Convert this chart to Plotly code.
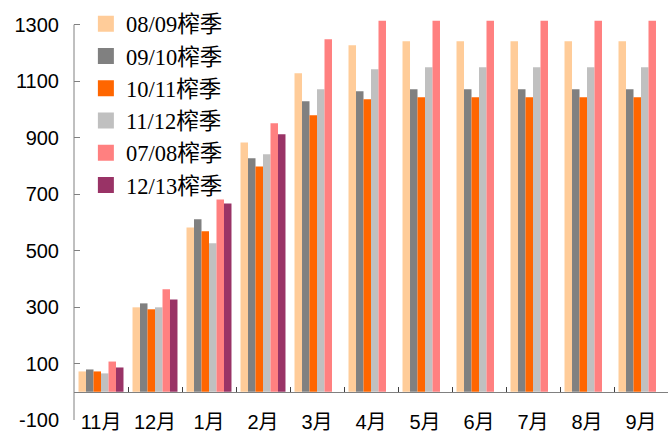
import plotly.graph_objects as go

months = ["11月", "12月", "1月", "2月", "3月", "4月", "5月", "6月", "7月", "8月", "9月"]

s_0809 = [72, 299, 582, 883, 1128, 1227, 1241, 1241, 1241, 1241, 1241]
s_0910 = [79, 313, 611, 827, 1029, 1064, 1071, 1071, 1071, 1071, 1071]
s_1011 = [72, 292, 568, 798, 979, 1036, 1043, 1043, 1043, 1043, 1043]
s_1112 = [65, 299, 526, 841, 1071, 1142, 1149, 1149, 1149, 1149, 1149]
s_0708 = [107, 363, 681, 951, 1248, 1314, 1314, 1314, 1314, 1314, 1314]
s_1213 = [86, 327, 667, 912, None, None, None, None, None, None, None]

series = [
    ("08/09榨季", s_0809, "#FFCC99"),
    ("09/10榨季", s_0910, "#808080"),
    ("10/11榨季", s_1011, "#FF6600"),
    ("11/12榨季", s_1112, "#C0C0C0"),
    ("07/08榨季", s_0708, "#FF8080"),
    ("12/13榨季", s_1213, "#993366"),
]

y_ticks = [-100, 100, 300, 500, 700, 900, 1100, 1300]
y_min, y_max = -100, 1320

fig = go.Figure()
for name, vals, color in series:
    fig.add_trace(go.Bar(x=months, y=vals, name=name, marker_color=color,
                         marker_line_width=0, showlegend=False))
# square swatches for the legend
for name, vals, color in series:
    fig.add_trace(go.Scatter(x=[None], y=[None], mode="markers", name=name,
                             legendgroup=name,
                             marker=dict(symbol="square", size=16, color=color)))

axis_color = "#808080"
fig.update_layout(
    width=668, height=434,
    margin=dict(l=74, r=0, t=19, b=14),
    paper_bgcolor="white", plot_bgcolor="white",
    barmode="group", bargap=0.167, bargroupgap=0,
    font=dict(family="Liberation Sans, Arial, Noto Sans CJK SC", size=20, color="black"),
    xaxis=dict(
        type="category", anchor="free", automargin=False,
        position=(0 - y_min) / (y_max - y_min),
        showline=True, linecolor=axis_color, linewidth=1,
        ticks="inside", tickson="boundaries", ticklen=5, tickcolor="#404040",
        ticklabelstandoff=12,
        showgrid=False, zeroline=False,
        tickfont=dict(family="Liberation Sans, Noto Sans CJK SC", size=20),
    ),
    yaxis=dict(
        range=[y_min, y_max], tickvals=y_ticks, automargin=False,
        ticktext=[str(v) for v in y_ticks],
        showline=False, showgrid=False, zeroline=False,
        ticks="inside", ticklen=6, tickcolor=axis_color,
        ticklabelstandoff=14,
        tickfont=dict(size=20),
    ),
    legend=dict(
        x=0.02, y=1.041, xanchor="left", yanchor="top",
        bgcolor="rgba(0,0,0,0)", tracegroupgap=0, maxheight=420,
        font=dict(family="Liberation Serif, Noto Sans CJK SC", size=22.5),
    ),
    shapes=[dict(type="line", xref="paper", yref="y", x0=0, x1=0,
                 y0=-100, y1=1300, line=dict(color=axis_color, width=1))],
)

fig.write_html("out.html")
